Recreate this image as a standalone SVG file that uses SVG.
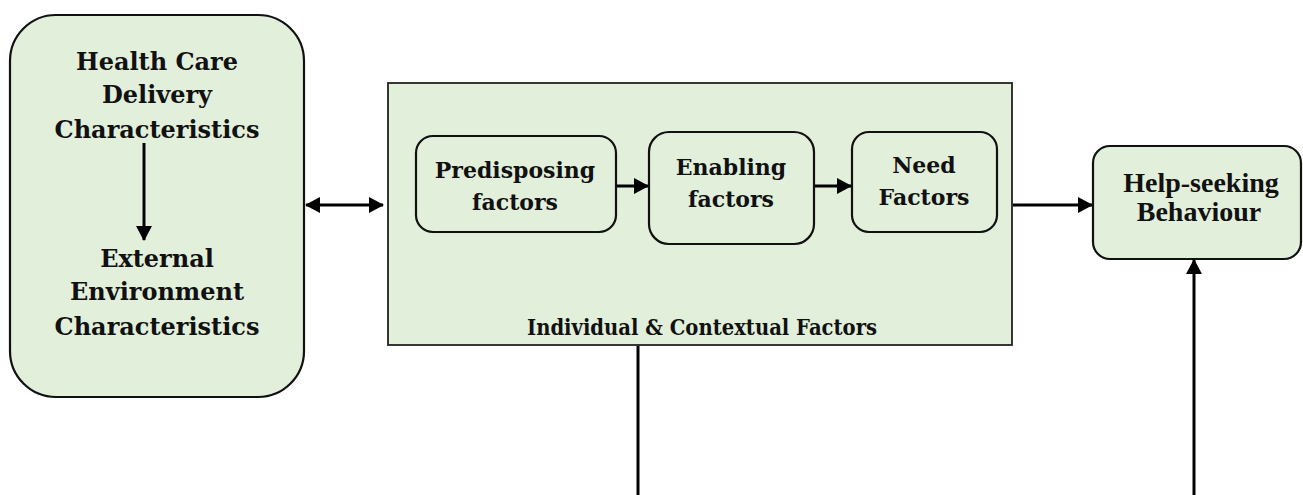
<svg xmlns="http://www.w3.org/2000/svg" width="1303" height="495" viewBox="0 0 1303 495">
<defs>
<style>
.box{fill:#E2EFDA;stroke:#111;stroke-width:2.2}
.outer{fill:#E2EFDA;stroke:#222;stroke-width:1.8}
.t{font-family:"DejaVu Serif","Liberation Serif",serif;font-weight:bold;fill:#111;text-anchor:middle}
.big{font-size:24px}
.mid{font-size:22px}
.hs{font-family:"Liberation Serif","DejaVu Serif",serif;font-size:28px}
.conn{stroke:#000;stroke-width:3;fill:none}
</style>
<marker id="ah" viewBox="0 0 15 16" refX="14" refY="8" markerWidth="15" markerHeight="16" markerUnits="userSpaceOnUse" orient="auto-start-reverse">
<path d="M0,0 L15,8 L0,16 z" fill="#000"/>
</marker>
</defs>
<rect width="1303" height="495" fill="#fff"/>
<g id="left-node">
<rect class="box" x="10" y="15" width="294" height="382" rx="46" ry="46"/>
<text class="t big" x="157" y="70">Health Care</text>
<text class="t big" x="157" y="103">Delivery</text>
<text class="t big" x="157" y="138">Characteristics</text>
<text class="t big" x="157" y="267">External</text>
<text class="t big" x="157" y="300">Environment</text>
<text class="t big" x="157" y="335">Characteristics</text>
</g>
<g id="middle-node">
<rect class="outer" x="388" y="83" width="624" height="262"/>
<text class="t" x="702" y="335" font-size="22" textLength="350" lengthAdjust="spacingAndGlyphs">Individual &amp; Contextual Factors</text>
</g>
<g id="predisposing">
<rect class="box" x="416" y="136" width="200" height="96" rx="17" ry="17"/>
<text class="t mid" x="515" y="178">Predisposing</text>
<text class="t mid" x="515" y="210">factors</text>
</g>
<g id="enabling">
<rect class="box" x="649" y="132" width="165" height="112" rx="20" ry="20"/>
<text class="t mid" x="731" y="175">Enabling</text>
<text class="t mid" x="731" y="207">factors</text>
</g>
<g id="need">
<rect class="box" x="852" y="132" width="145" height="100" rx="17" ry="17"/>
<text class="t mid" x="924" y="173">Need</text>
<text class="t mid" x="924" y="205">Factors</text>
</g>
<g id="help">
<rect class="box" x="1093" y="146" width="208" height="113" rx="17" ry="17"/>
<text class="t hs" x="1201" y="192">Help-seeking</text>
<text class="t hs" x="1199" y="221">Behaviour</text>
</g>
<g id="connectors">
<line class="conn" x1="144" y1="143" x2="144" y2="240" marker-end="url(#ah)"/>
<line class="conn" x1="306" y1="205" x2="383" y2="205" marker-start="url(#ah)" marker-end="url(#ah)"/>
<line class="conn" x1="617" y1="186" x2="648" y2="186" stroke-width="3.5" marker-end="url(#ah)"/>
<line class="conn" x1="815" y1="186" x2="851" y2="186" stroke-width="3.5" marker-end="url(#ah)"/>
<line class="conn" x1="1013" y1="205" x2="1092" y2="205" marker-end="url(#ah)"/>
<line class="conn" x1="638" y1="346" x2="638" y2="495"/>
<line class="conn" x1="1194" y1="495" x2="1194" y2="260" marker-end="url(#ah)"/>
</g>
</svg>
